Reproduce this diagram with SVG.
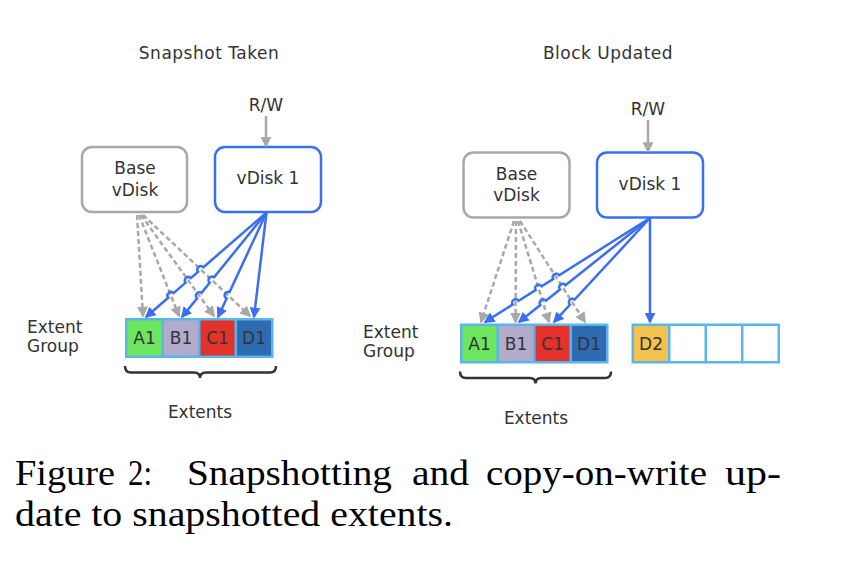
<svg xmlns="http://www.w3.org/2000/svg" width="856" height="566" viewBox="0 0 856 566">
<style>
.t{font-family:"DejaVu Sans","Liberation Sans",sans-serif;font-size:17px;fill:#333;}
.c{text-anchor:middle;}
.title{letter-spacing:0.5px;}
.gbox{fill:#fff;stroke:#a8a8a8;stroke-width:2.5;}
.bbox{fill:#fff;stroke:#3b6ff2;stroke-width:2.5;}
.grp{fill:#59b5ea;}
.gl{fill:none;stroke:#a8a8a8;stroke-width:2.5;stroke-dasharray:5 3;marker-end:url(#ag);}
.bl{fill:none;stroke:#3b6ff2;stroke-width:2.5;marker-end:url(#ab);}
.rw{fill:none;stroke:#a8a8a8;stroke-width:2.5;marker-end:url(#ag);}
.brace{fill:none;stroke:#333;stroke-width:2.5;}
.cap{font-family:"Liberation Serif","Times New Roman",serif;font-size:35.5px;fill:#000;}
</style>
<defs>
<marker id="ab" viewBox="0 0 10 10" refX="8.5" refY="5" markerWidth="11" markerHeight="11" markerUnits="userSpaceOnUse" orient="auto"><path d="M0,0 L10,5 L0,10 z" fill="#3b6ff2"/></marker>
<marker id="ag" viewBox="0 0 10 10" refX="8.5" refY="5" markerWidth="11" markerHeight="11" markerUnits="userSpaceOnUse" orient="auto"><path d="M0,0 L10,5 L0,10 z" fill="#a8a8a8"/></marker>
</defs>
<rect width="856" height="566" fill="#fff"/>

<!-- Left panel -->
<text class="t c title" x="209" y="59">Snapshot Taken</text>
<text class="t c" x="266" y="111">R/W</text>

<g id="base-left">
<rect class="gbox" x="82" y="147" width="105" height="65" rx="10"/>
<text class="t c" x="135" y="174">Base</text>
<text class="t c" x="135" y="196">vDisk</text>
</g>
<g id="vdisk1-left">
<rect class="bbox" x="215" y="147" width="106" height="65" rx="10"/>
<text class="t c" x="268" y="184">vDisk 1</text>
</g>

<g id="label-left">
<text class="t" x="27" y="333">Extent</text>
<text class="t" x="27" y="352">Group</text>
</g>

<g id="extents-left">
<rect class="grp" x="125" y="318" width="148.5" height="40"/>
<rect x="127.5" y="320.5" width="34" height="35" fill="#6ee55e"/>
<rect x="164" y="320.5" width="34" height="35" fill="#b3abcc"/>
<rect x="200.5" y="320.5" width="34" height="35" fill="#e3312b"/>
<rect x="237" y="320.5" width="34" height="35" fill="#2f6bb3"/>
<text class="t c" x="144.5" y="344">A1</text>
<text class="t c" x="181" y="344">B1</text>
<text class="t c" x="217.5" y="344">C1</text>
<text class="t c" x="254" y="344">D1</text>
</g>
<g id="brace-left">
<path class="brace" d="M125,366 Q125,372.5 131,372.5 L194,372.5 Q200,372.5 200,378 Q200,372.5 206,372.5 L270,372.5 Q276,372.5 276,366"/>
<text class="t c" x="200" y="418">Extents</text>
</g>

<!-- Right panel -->
<text class="t c title" x="608" y="59">Block Updated</text>
<text class="t c" x="648" y="115">R/W</text>

<g id="base-right">
<rect class="gbox" x="463.5" y="152.5" width="106" height="65" rx="10"/>
<text class="t c" x="516.5" y="180">Base</text>
<text class="t c" x="516.5" y="201">vDisk</text>
</g>
<g id="vdisk1-right">
<rect class="bbox" x="597" y="152.5" width="106" height="65" rx="10"/>
<text class="t c" x="650" y="190">vDisk 1</text>
</g>

<g id="label-right">
<text class="t" x="363" y="338">Extent</text>
<text class="t" x="363" y="357">Group</text>
</g>

<g id="extents-right">
<rect class="grp" x="460" y="323.5" width="148.5" height="40"/>
<rect x="462.5" y="326" width="34" height="35" fill="#6ee55e"/>
<rect x="499" y="326" width="34" height="35" fill="#b3abcc"/>
<rect x="535.5" y="326" width="34" height="35" fill="#e3312b"/>
<rect x="572" y="326" width="34" height="35" fill="#2f6bb3"/>
<text class="t c" x="479.5" y="349.5">A1</text>
<text class="t c" x="516" y="349.5">B1</text>
<text class="t c" x="552.5" y="349.5">C1</text>
<text class="t c" x="589" y="349.5">D1</text>
</g>
<g id="extents-new">
<rect class="grp" x="631.5" y="323.5" width="148.5" height="40"/>
<rect x="634" y="326" width="34" height="35" fill="#f2c14e"/>
<rect x="670.5" y="326" width="34" height="35" fill="#fff"/>
<rect x="707" y="326" width="34" height="35" fill="#fff"/>
<rect x="743.5" y="326" width="34" height="35" fill="#fff"/>
<text class="t c" x="651" y="349.5">D2</text>
</g>
<g id="brace-right">
<path class="brace" d="M460,371.5 Q460,378 466,378 L529.5,378 Q535.5,378 535.5,383.5 Q535.5,378 541.5,378 L605,378 Q611,378 611,371.5"/>
<text class="t c" x="536" y="423.5">Extents</text>
</g>

<g id="connectors">
<path class="rw" d="M266,116 L266,146"/>
<path class="gl" d="M137,215 L143,316"/>
<path class="gl" d="M139,215 L179,316"/>
<path class="gl" d="M141,215 L214,316"/>
<path class="gl" d="M143,215 L250,316"/>
<path class="bl" d="M266.5,212.5 L203.39,267.22 A3.5,3.5 0 0 0 198.11,271.80 L190.89,278.08 A3.5,3.5 0 0 0 185.61,282.66 L173.50,293.15 A3.5,3.5 0 0 0 168.22,297.73 L146,317"/>
<path class="bl" d="M266.5,212.5 L214.10,277.31 A3.5,3.5 0 0 0 209.70,282.75 L201.48,292.91 A3.5,3.5 0 0 0 197.08,298.35 L182,317"/>
<path class="bl" d="M266.5,212.5 L229.54,292.13 A3.5,3.5 0 0 0 226.60,298.48 L218,317"/>
<path class="bl" d="M266.5,212.5 L254,317"/>

<path class="rw" d="M648,120 L648,151.5"/>
<path class="gl" d="M514,221 L481,322"/>
<path class="gl" d="M516,221 L515.5,322"/>
<path class="gl" d="M518,221 L549,322"/>
<path class="gl" d="M520,221 L585,322"/>
<path class="bl" d="M650,218 L559.10,275.29 A3.5,3.5 0 0 0 553.18,279.03 L541.59,286.33 A3.5,3.5 0 0 0 535.67,290.07 L518.56,300.85 A3.5,3.5 0 0 0 512.64,304.59 L485,322"/>
<path class="bl" d="M650,218 L565.42,285.14 A3.5,3.5 0 0 0 559.94,289.50 L545.86,300.67 A3.5,3.5 0 0 0 540.38,305.03 L519,322"/>
<path class="bl" d="M650,218 L574.64,299.65 A3.5,3.5 0 0 0 569.90,304.79 L554,322"/>
<path class="bl" d="M650,218 L650,322"/>
</g>

<g id="caption">
<text class="cap" y="485"><tspan x="15" textLength="100" lengthAdjust="spacingAndGlyphs">Figure</tspan><tspan x="128" textLength="24" lengthAdjust="spacingAndGlyphs">2:</tspan><tspan x="187" textLength="205" lengthAdjust="spacingAndGlyphs">Snapshotting</tspan><tspan x="412" textLength="57" lengthAdjust="spacingAndGlyphs">and</tspan><tspan x="486" textLength="221" lengthAdjust="spacingAndGlyphs">copy-on-write</tspan><tspan x="725" textLength="56" lengthAdjust="spacingAndGlyphs">up-</tspan></text>
<text class="cap" x="15" y="526" textLength="438" lengthAdjust="spacingAndGlyphs">date to snapshotted extents.</text>
</g>
</svg>
